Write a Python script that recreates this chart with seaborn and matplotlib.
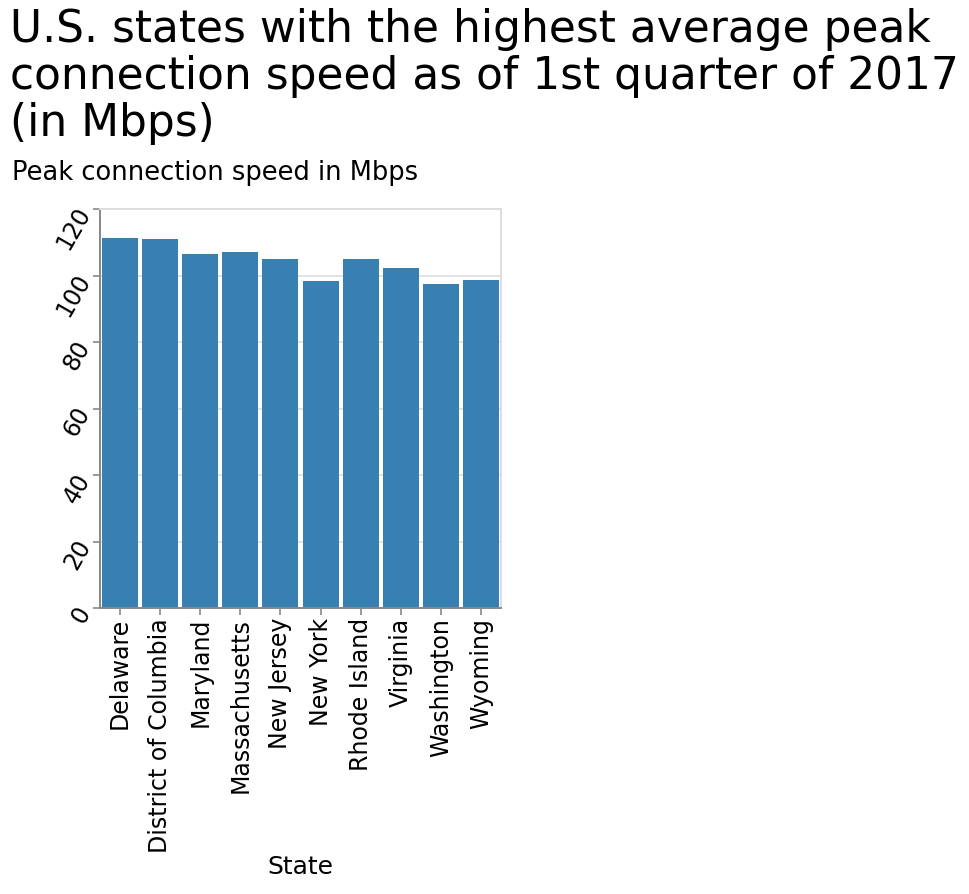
import matplotlib
matplotlib.use("Agg")
import matplotlib.pyplot as plt
import seaborn as sns
import pandas as pd

states = ["Delaware", "District of Columbia", "Maryland", "Massachusetts", "New Jersey",
          "New York", "Rhode Island", "Virginia", "Washington", "Wyoming"]
speeds = [111.3, 110.9, 106.4, 107.1, 104.9, 98.4, 104.9, 102.2, 97.4, 98.6]
yticks = [0, 20, 40, 60, 80, 100, 120]

title = "U.S. states with the highest average peak\nconnection speed as of 1st quarter of 2017\n(in Mbps)"
ylabel = "Peak connection speed in Mbps"
xlabel = "State"

sns.set_theme(style="white")
plt.rcParams["font.family"] = ["DejaVu Sans"]
plt.rcParams["text.color"] = "black"
plt.rcParams["axes.labelcolor"] = "black"
plt.rcParams["xtick.color"] = "black"
plt.rcParams["ytick.color"] = "black"
plt.rcParams["xtick.bottom"] = True
plt.rcParams["ytick.left"] = True

df = pd.DataFrame({"State": states, "Speed": speeds})

fig = plt.figure(figsize=(9.70, 8.94), dpi=100)
ax = fig.add_axes([100/970, 1-608.3/894, 401/970, (608.3-209)/894])

sns.barplot(data=df, x="State", y="Speed", color="#3880b1", saturation=1,
            width=0.9, ax=ax, zorder=2, edgecolor="none")

ax.set_xlim(-0.5, 9.5)
ax.set_ylim(0, 120)
ax.set_yticks(yticks)
ax.set_yticklabels([str(t) for t in yticks], rotation=60, ha="right", va="center",
                   rotation_mode="anchor", fontsize=17)
ax.set_xticks(range(len(states)))
ax.set_xticklabels(states, rotation=90, fontsize=17)
ax.yaxis.grid(True, color="#dddddd", linewidth=1.2, zorder=0)
ax.set_axisbelow(True)
ax.tick_params(axis="both", which="both", length=5, width=1.2, color="#888888",
               labelcolor="black", pad=2)
ax.tick_params(axis="y", pad=6)

for s in ["left", "bottom"]:
    ax.spines[s].set_color("#888888")
    ax.spines[s].set_linewidth(1.4)
for s in ["top", "right"]:
    ax.spines[s].set_color("#dddddd")
    ax.spines[s].set_linewidth(1.4)

ax.set_ylabel("")
ax.set_xlabel(xlabel, fontsize=18, labelpad=2, color="black")

fig.text(10/970, 1-8/894, title, ha="left", va="top", fontsize=31.6, linespacing=1.12,
         color="black")
fig.text(12/970, 1-160/894, ylabel, ha="left", va="top", fontsize=18.5, color="black")

fig.savefig("out.png", dpi=100)
